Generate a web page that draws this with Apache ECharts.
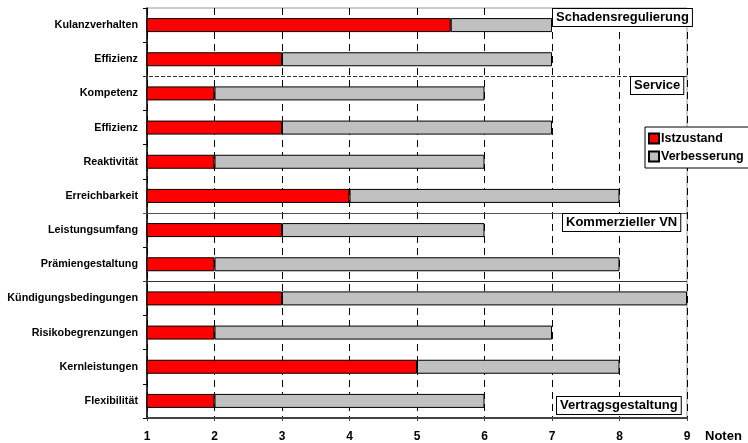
<!DOCTYPE html>
<html>
<head>
<meta charset="utf-8">
<script src="https://cdn.jsdelivr.net/npm/echarts@6/dist/echarts.min.js"></script>
<style>
  html, body { margin: 0; padding: 0; background: #fff; }
  #chart { width: 748px; height: 443px; }
</style>
</head>
<body>
<div id="chart"></div>
<script>
var categories = ['Kulanzverhalten', 'Effizienz', 'Kompetenz', 'Effizienz', 'Reaktivität', 'Erreichbarkeit',
  'Leistungsumfang', 'Prämiengestaltung', 'Kündigungsbedingungen', 'Risikobegrenzungen', 'Kernleistungen', 'Flexibilität'];
var istzustand = [5.5, 3, 2, 3, 2, 4, 3, 2, 3, 2, 5, 2];
var zielwert = [7, 7, 6, 7, 6, 8, 6, 8, 9, 7, 8, 6];
var verbesserung = zielwert.map(function (v, i) { return v - istzustand[i]; });
var xTicks = [1, 2, 3, 4, 5, 6, 7, 8, 9];

var chart = echarts.init(document.getElementById('chart'));
var bold = 'bold';
var font = 'Liberation Sans, Arial, sans-serif';

var option = {
  backgroundColor: '#ffffff',
  animation: false,
  grid: {
    left: 147, right: 61, top: 8, bottom: 25,
    show: true, borderColor: '#999', borderWidth: 1
  },
  legend: {
    orient: 'vertical',
    left: 645, top: 127,
    backgroundColor: '#fff',
    borderColor: '#000', borderWidth: 1,
    padding: [5, 6, 5, 3],
    itemGap: 5,
    itemWidth: 10, itemHeight: 10,
    icon: 'rect',
    textStyle: { fontFamily: font, fontWeight: bold, fontSize: 12.5, color: '#000', padding: [0, 0, 0, -3] },
    data: ['Istzustand', 'Verbesserung']
  },
  xAxis: {
    type: 'value',
    min: xTicks[0], max: xTicks[xTicks.length - 1], interval: 1,
    axisLine: { show: true, lineStyle: { color: '#444', width: 2 } },
    axisTick: { show: true, length: 3, lineStyle: { color: '#444' } },
    axisLabel: { fontFamily: font, fontWeight: bold, fontSize: 12, color: '#000', margin: 13 },
    splitLine: { show: true, lineStyle: { color: '#000', type: [7, 5], width: 1 } }
  },
  yAxis: {
    type: 'category',
    inverse: true,
    data: categories,
    axisLine: { show: true, lineStyle: { color: '#000', width: 1.5 } },
    axisTick: { show: true, length: 4, lineStyle: { color: '#000' } },
    axisLabel: { fontFamily: font, fontWeight: bold, fontSize: 10.8, color: '#000', margin: 9 },
    splitLine: { show: false }
  },
  series: [{
    name: 'Istzustand',
    type: 'bar',
    stack: 'note',
    barWidth: 14,
    itemStyle: { color: '#ff0000', borderColor: '#000', borderWidth: 1 },
    data: istzustand
  }, {
    name: 'Verbesserung',
    type: 'bar',
    stack: 'note',
    barWidth: 14,
    itemStyle: { color: '#c0c0c0', borderColor: '#000', borderWidth: 1 },
    data: verbesserung
  }]
};
chart.setOption(option);

// section separators and labels
function boundaryY(i) {
  var a = chart.convertToPixel({ yAxisIndex: 0 }, i);
  var b = chart.convertToPixel({ yAxisIndex: 0 }, i + 1);
  return Math.round((a + b) / 2) + 0.5;
}
var x0 = chart.convertToPixel({ xAxisIndex: 0 }, 1) - 4;
var x1 = chart.convertToPixel({ xAxisIndex: 0 }, 9);
var seps = [
  { after: 1, dash: [4, 2], color: '#333' },
  { after: 5, dash: null, color: '#555' },
  { after: 7, dash: null, color: '#333' }
];
var graphics = seps.map(function (s) {
  var y = boundaryY(s.after);
  return {
    type: 'line', z: 5,
    shape: { x1: x0, y1: y, x2: x1, y2: y },
    style: { stroke: s.color, lineWidth: 1, lineDash: s.dash }
  };
});
var boxes = [
  { text: 'Schadensregulierung', x: 552, y: 8 },
  { text: 'Service', x: 630, y: 76 },
  { text: 'Kommerzieller VN', x: 562, y: 213 },
  { text: 'Vertragsgestaltung', x: 556, y: 396 }
];
boxes.forEach(function (b) {
  graphics.push({
    type: 'text', z: 10, left: b.x, top: b.y,
    style: {
      text: b.text, fill: '#000', font: 'bold 13px ' + font,
      backgroundColor: '#fff', borderColor: '#000', borderWidth: 1,
      padding: [2, 3, 2, 3]
    }
  });
});
graphics.push({
  type: 'text', z: 10, left: 705, top: 430,
  style: { text: 'Noten', fill: '#000', font: 'bold 13px ' + font }
});
chart.setOption({ graphic: graphics });
</script>
</body>
</html>
